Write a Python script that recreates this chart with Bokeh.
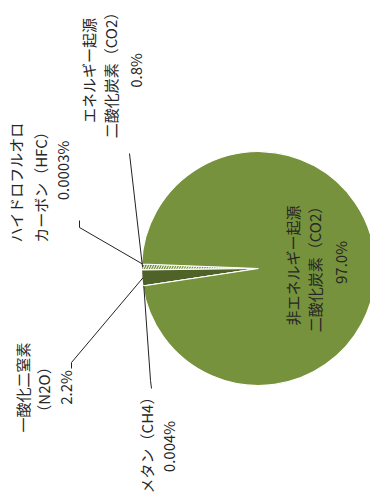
import math
from bokeh.plotting import figure
from bokeh.models import Range1d, ColumnDataSource
from bokeh.core.properties import value
from bokeh.embed import file_html
from bokeh.resources import INLINE

# ---- data ----
categories = ["ハイドロフルオロカーボン（HFC）", "エネルギー起源二酸化炭素（CO2）",
              "一酸化二窒素（N2O）", "メタン（CH4）", "非エネルギー起源二酸化炭素（CO2）"]
values = [0.0003, 0.8, 2.2, 0.004, 97.0]
label_lines = [
    ["ハイドロフルオロ", "カーボン（HFC）", "0.0003%"],
    ["エネルギー起源", "二酸化炭素（CO2）", "0.8%"],
    ["一酸化二窒素", "（N2O）", "2.2%"],
    ["メタン（CH4）", "0.004%"],
    ["非エネルギー起源", "二酸化炭素（CO2）", "97.0%"],
]

# ---- layout (screen px, y downward) ----
W, H = 370, 495
CX, CY, R = 258, 268, 117
START_DEG = 177.8
fills = ["#76923C", "#76923C", "#4F6228", "#4F6228", "#76923C"]
hatches = [" ", "/", " ", " ", " "]
label_pos = [
    [(15, 182), (40, 183), (62, 170)],
    [(88, 70), (110, 71), (135, 70)],
    [(22, 387), (43, 389), (65, 387)],
    [(146, 441), (168, 446)],
    [(292, 265), (314, 265), (340, 262)],
]
leader_pts = [
    [(79, 227), (79, 220)],
    [(129, 153)],
    [(71, 362), (71, 368)],
    [(150, 380), (151, 388)],
    None,
]

def Y(y):
    return H - y

p = figure(width=W, height=H, output_backend="svg", toolbar_location=None,
           x_range=Range1d(0, W), y_range=Range1d(0, H), min_border=0)
p.axis.visible = False
p.grid.visible = False
p.outline_line_color = None
p.background_fill_color = "white"

total = sum(values)
starts, ends = [], []
a = math.radians(START_DEG)
for v in values:
    starts.append(a)
    a += v / total * 2 * math.pi
    ends.append(a)

src = ColumnDataSource(dict(x=[CX] * len(values), y=[Y(CY)] * len(values),
                            start=starts, end=ends, fill=fills, hatch=hatches))
p.wedge(x="x", y="y", radius=R, start_angle="start", end_angle="end",
        fill_color="fill", line_color="white", line_width=1.2,
        hatch_pattern="hatch", hatch_color="white", hatch_scale=5,
        hatch_weight=1.0, source=src)

# leaders
for i, pts in enumerate(leader_pts):
    if not pts:
        continue
    mid = (starts[i] + ends[i]) / 2
    sx = CX + (R - 1) * math.cos(mid)
    sy = Y(CY) + (R - 1) * math.sin(mid)
    xs = [sx] + [q[0] for q in pts]
    ys = [sy] + [Y(q[1]) for q in pts]
    p.line(xs, ys, line_color="#222222", line_width=1)

# labels
for i, lines in enumerate(label_lines):
    for j, t in enumerate(lines):
        x, y = label_pos[i][j]
        is_num = t.endswith("%")
        p.text(x=[x], y=[Y(y)], text=[t], angle=math.pi / 2,
               text_align="center", text_baseline="middle",
               text_font=value("Noto Sans CJK JP"),
               text_font_size="15px",
               text_color="#262626")

open("out.html", "w").write(file_html(p, INLINE))
